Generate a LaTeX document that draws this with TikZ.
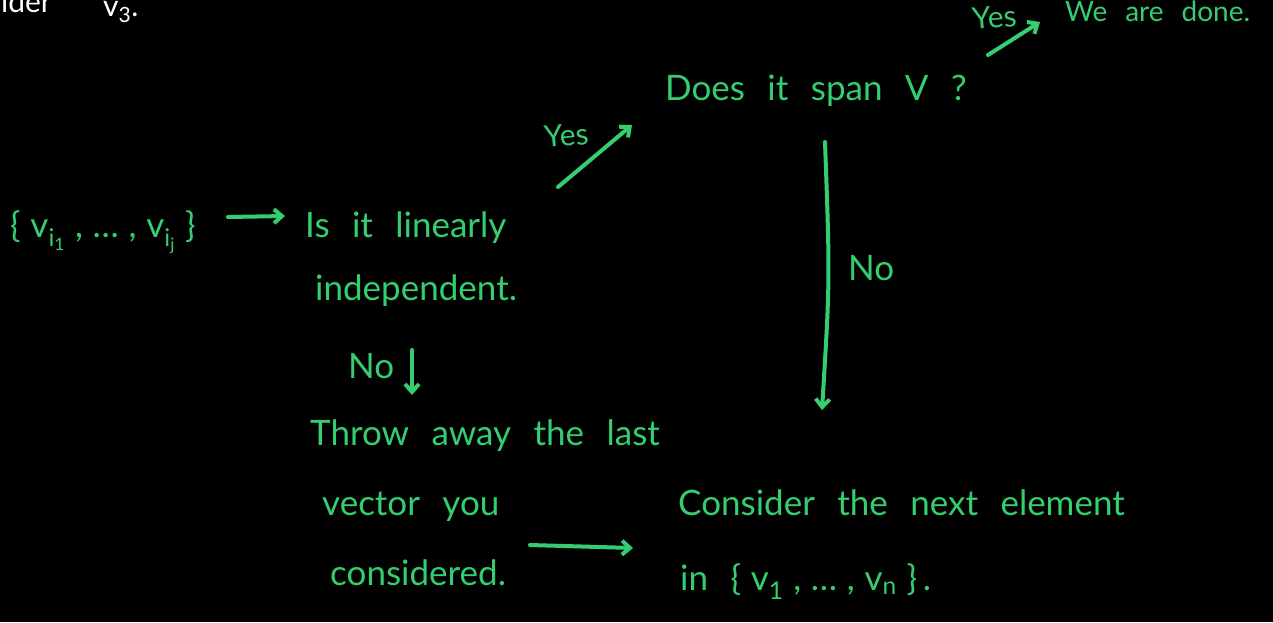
\documentclass[tikz,border=0pt]{standalone}
\usepackage{fontspec}
\setmainfont{Lato}[WordSpace=2.5]
\usetikzlibrary{arrows.meta}
\definecolor{chalk}{RGB}{52,206,112}
\newcommand{\vsub}[1]{v\textsubscript{#1}}
\begin{document}
\begin{tikzpicture}[x=1pt,y=-1pt,
  txt/.style={text=chalk, font=\fontsize{35}{40}\selectfont, anchor=base west, inner sep=0pt},
  small/.style={font=\fontsize{30}{36}\selectfont},
  tiny/.style={font=\fontsize{28}{34}\selectfont},
  white/.style={text=white, font=\fontsize{30}{36}\selectfont, inner sep=0pt},
  arr/.style={draw=chalk, line width=4pt, line cap=round, line join=round, -{Straight Barb[length=8pt,width=14pt,line width=4pt]}},
]
\useasboundingbox (0,0) rectangle (1273,622);
\fill[black] (0,0) rectangle (1273,622);
\clip (0,0) rectangle (1273,622);

% partially visible text at the top-left
\node[white, anchor=base east] (cons) at (52,12) {Consider};
\node[white, anchor=base west] (vthree) at (103,16) {\vsub{3}.};

\node[txt] (set) at (10,237) {\{\;\vsub{i\textsubscript{1}}\;,\;…\;,\;\vsub{i\textsubscript{j}}\;\}};
\node[txt] (q1) at (305,237) {Is it linearly};
\node[txt] (q1b) at (315,300) {independent.};
\node[txt] (no1) at (348,378) {No};
\node[txt] (thr) at (310,445) {Throw away the last};
\node[txt] (thrb) at (322,515) {vector you};
\node[txt] (thrc) at (330,585) {considered.};
\node[txt] (span) at (665,100) {Does it span V ?};
\node[txt, small, rotate=5] (yes1) at (545,148) {Yes};
\node[txt, small, rotate=5] (yes2) at (973,30) {Yes};
\node[txt, tiny] (done) at (1065,21) {We are done.};
\node[txt] (no2) at (848,280) {No};
\node[txt] (next) at (678,515) {Consider the next element};
\node[txt] (nextb) at (680,590) {in \{\;\vsub{1}\;,\;…\;,\;\vsub{n}\;\}\,.};

% connectors
\draw[arr] ([shift={(218,-20)}]set.base west) -- ([shift={(-20,-21)}]q1.base west);
\draw[arr] ([shift={(253,-50)}]q1.base west) -- ([shift={(-33,25)}]span.base west);
\draw[arr] ([shift={(323,-45)}]span.base west) -- ([shift={(-25,1)}]done.base west);
\draw[arr] ([shift={(97,50)}]q1b.base west) -- ([shift={(102,-50)}]thr.base west);
\draw[arr] ([shift={(160,42)}]span.base west) .. controls ([shift={(165,180)}]span.base west) .. ([shift={(144,-105)}]next.base west);
\draw[arr] ([shift={(200,-40)}]thrc.base west) -- ([shift={(-45,33)}]next.base west);
\end{tikzpicture}
\end{document}
